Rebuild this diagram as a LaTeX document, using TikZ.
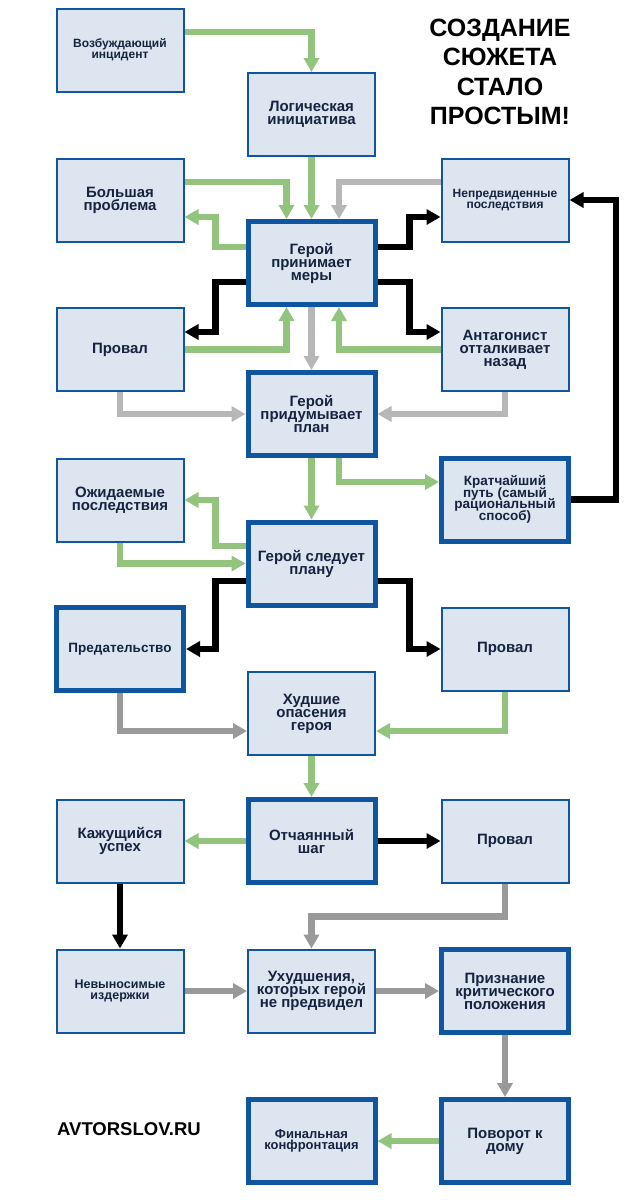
\documentclass[tikz,border=0pt]{standalone}
\usepackage{fontspec}
\setmainfont{Liberation Sans}
\usetikzlibrary{arrows.meta}
\definecolor{boxfill}{HTML}{DCE5F0}
\definecolor{boxline}{HTML}{0F55A0}
\definecolor{txt}{HTML}{15233F}
\definecolor{grn}{HTML}{93C47D}
\definecolor{lgray}{HTML}{B7B7B7}
\definecolor{dgray}{HTML}{999999}
\begin{document}
\lineskiplimit=-100pt
\lineskip=0pt
\begin{tikzpicture}[x=1pt,y=-1pt,
 box/.style={draw=boxline, fill=boxfill, line width=2pt, minimum width=127pt, minimum height=83pt, align=center, text=txt, font=\bfseries\fontsize{15}{13}\selectfont, inner sep=2pt},
 bbox/.style={box, line width=5pt},
 arr/.style={line width=6.5pt, -{Triangle[width=15pt,length=14pt]}},
 ga/.style={arr, draw=grn},
 la/.style={arr, draw=lgray},
 da/.style={arr, draw=dgray},
 ba/.style={arr, draw=black},
]
\useasboundingbox (0,0) rectangle (632,1200);
\node[box, font=\bfseries\fontsize{12}{11}\selectfont] (vozb) at (120,50) {Возбуждающий\\инцидент};
\node[box] (logic) at (311.5,114.5) {Логическая\\инициатива};
\node[box] (bolsh) at (120,200) {Большая\\проблема};
\node[box, font=\bfseries\fontsize{12}{10.5}\selectfont] (nepred) at (505,200) {Непредвиденные\\последствия};
\node[bbox] (prinim) at (311.5,263) {Герой\\принимает\\меры};
\node[box] (prov1) at (120,349.5) {Провал};
\node[box] (antag) at (505,349.5) {Антагонист\\отталкивает\\назад};
\node[bbox] (pridum) at (311.5,414) {Герой\\придумывает\\план};
\node[box] (ozhid) at (120,500) {Ожидаемые\\последствия};
\node[bbox, font=\bfseries\fontsize{13.5}{11.5}\selectfont] (kratch) at (505,499.5) {Кратчайший\\путь (самый\\рациональный\\способ)};
\node[bbox] (sled) at (311.5,563.5) {Герой следует\\плану};
\node[bbox, font=\bfseries\fontsize{13.5}{12}\selectfont] (predat) at (120,649) {Предательство};
\node[box] (prov2) at (505,649) {Провал};
\node[box] (hudsh) at (311.5,713.5) {Худшие\\опасения\\героя};
\node[box] (kazh) at (120,841) {Кажущийся\\успех};
\node[bbox] (otch) at (311.5,841) {Отчаянный\\шаг};
\node[box] (prov3) at (505,841) {Провал};
\node[box, font=\bfseries\fontsize{12.5}{11}\selectfont] (nevyn) at (120,991) {Невыносимые\\издержки};
\node[box] (uhud) at (311.5,991) {Ухудшения,\\которых герой\\не предвидел};
\node[bbox] (prizn) at (505,991) {Признание\\критического\\положения};
\node[bbox, font=\bfseries\fontsize{13}{11}\selectfont] (final) at (311.5,1141) {Финальная\\конфронтация};
\node[bbox] (povor) at (505,1141) {Поворот к\\дому};
\node[font=\bfseries\fontsize{25}{29.3}\selectfont, align=center, text=black] (title) at (500,72) {СОЗДАНИЕ\\СЮЖЕТА\\СТАЛО\\ПРОСТЫМ!};
\node[font=\bfseries\fontsize{18.5}{20}\selectfont, anchor=west, inner sep=0pt, text=black] (site) at (57,1129) {AVTORSLOV.RU};
% connectors
\draw[ga] ([yshift=18pt]vozb.east) -| (logic.north);
\draw[ga] (logic.south) -- (prinim.north);
\draw[ga] ([yshift=18pt]bolsh.east) -| ([xshift=-25pt]prinim.north);
\draw[la] ([yshift=18pt]nepred.west) -| ([xshift=27.5pt]prinim.north);
\draw[ga] ([yshift=16pt]prinim.west) -- ++(-30,0) |- ([yshift=-17pt]bolsh.east);
\draw[ba] ([yshift=16pt]prinim.east) -- ++(32,0) |- ([yshift=-17pt]nepred.west);
\draw[ba] ([yshift=-19pt]prinim.west) -- ++(-30,0) |- ([yshift=17.5pt]prov1.east);
\draw[ba] ([yshift=-19pt]prinim.east) -- ++(32,0) |- ([yshift=17.5pt]antag.west);
\draw[ga] (prov1.east) -| ([xshift=-25pt]prinim.south);
\draw[ga] (antag.west) -| ([xshift=27.5pt]prinim.south);
\draw[la] (prinim.south) -- (pridum.north);
\draw[la] (prov1.south) |- (pridum.west);
\draw[la] (antag.south) |- (pridum.east);
\draw[ga] (pridum.south) -- (sled.north);
\draw[ga] ([xshift=27.5pt]pridum.south) |- ([yshift=17.5pt]kratch.west);
\draw[ba] (kratch.east) -- ++(45,0) |- (nepred.east);
\draw[ga] ([yshift=17.5pt]sled.west) -- ++(-30,0) |- (ozhid.east);
\draw[ga] (ozhid.south) |- (sled.west);
\draw[ba] ([yshift=-17.5pt]sled.west) -- ++(-30,0) |- (predat.east);
\draw[ba] ([yshift=-17.5pt]sled.east) -- ++(32,0) |- (prov2.west);
\draw[da] (predat.south) |- ([yshift=-17.5pt]hudsh.west);
\draw[ga] (prov2.south) |- ([yshift=-17.5pt]hudsh.east);
\draw[ga] (hudsh.south) -- (otch.north);
\draw[ga] (otch.west) -- (kazh.east);
\draw[ba] (otch.east) -- (prov3.west);
\draw[ba] (kazh.south) -- (nevyn.north);
\draw[da] (prov3.south) -- ++(0,33) -| (uhud.north);
\draw[da] (nevyn.east) -- (uhud.west);
\draw[da] (uhud.east) -- (prizn.west);
\draw[da] (prizn.south) -- (povor.north);
\draw[ga] (povor.west) -- (final.east);
\end{tikzpicture}
\end{document}
